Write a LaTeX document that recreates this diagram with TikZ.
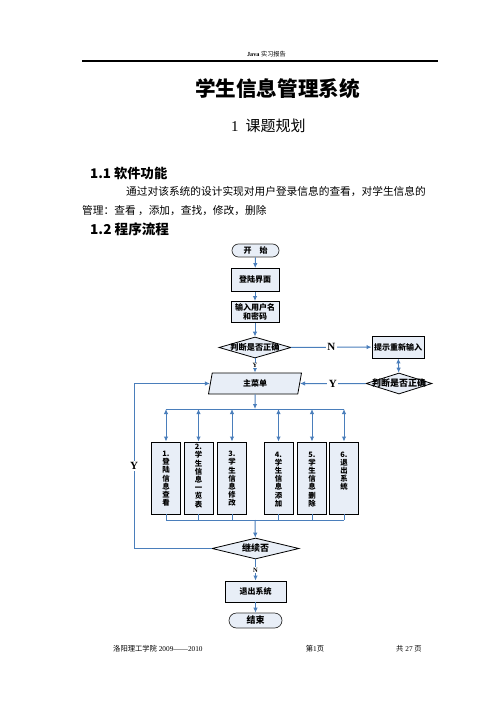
\documentclass[tikz,border=0pt]{standalone}
\usepackage{fontspec}
\setmainfont{Liberation Serif}
\newfontfamily\cjk{Noto Sans CJK SC}
\usetikzlibrary{arrows.meta, shapes.geometric, positioning}
\definecolor{flowblue}{RGB}{74,126,187}
\definecolor{boxfill}{RGB}{232,238,247}

\begin{document}
\begin{tikzpicture}[x=1pt, y=-1pt,
    every node/.style={inner sep=0pt},
    procbox/.style={draw=black, line width=0.9pt, fill=boxfill, align=center,
        font=\cjk\bfseries\fontsize{8}{8.8}\selectfont},
    termbox/.style={procbox, draw=black!80, line width=0.7pt, rounded corners=6.5pt},
    optbox/.style={procbox, minimum width=29pt, minimum height=72pt},
    vtext/.style={anchor=north, align=center, font=\cjk\bfseries\fontsize{7.4}{8.2}\selectfont},
    decision/.style={diamond, draw=black, line width=0.8pt, fill=boxfill},
    dtext/.style={font=\cjk\bfseries\fontsize{8.2}{9}\selectfont},
    menushape/.style={trapezium, trapezium left angle=64, trapezium right angle=116,
        trapezium stretches body, draw=black, line width=0.8pt, fill=boxfill,
        minimum width=93pt, minimum height=21pt, font=\cjk\bfseries\fontsize{8}{9}\selectfont},
    link/.style={draw=flowblue, line width=1pt},
    flow/.style={link, -{Latex[length=5pt, width=4.5pt]}},
    dflow/.style={link, {Latex[length=5pt, width=4.5pt]}-{Latex[length=5pt, width=4.5pt]}},
    yn/.style={fill=white, inner sep=1.5pt, font=\bfseries\fontsize{11}{11}\selectfont},
    ynsmall/.style={fill=white, inner sep=0.8pt, font=\bfseries\fontsize{6.5}{6.5}\selectfont},
]
\useasboundingbox (0,0) rectangle (496,701);

% page head and text
\node[font=\fontsize{6.2}{7}\selectfont] (head) at (266.5,54) {\textbf{Java} {\cjk 实习报告}};
\draw[line width=1.5pt] (82,61) -- (438,61);
\node[font=\cjk\bfseries\fontsize{20.6}{24}\selectfont] (title) at (277.5,89) {学生信息管理系统};
\node[anchor=west, font=\fontsize{15}{18}\selectfont] (chap) at (231,126) {1\hspace{7pt}{\cjk 课题规划}};
\node[anchor=west, font=\cjk\bfseries\fontsize{13.3}{16}\selectfont] (sec1) at (90,173) {1.1 软件功能};
\node[anchor=west, font=\cjk\fontsize{10.7}{12}\selectfont] (body1) at (126,192) {通过对该系统的设计实现对用户登录信息的查看，对学生信息的};
\node[anchor=west, font=\cjk\fontsize{10.7}{12}\selectfont] (body2) at (82,211) {管理：查看 ，添加，查找，修改，删除};
\node[anchor=west, font=\cjk\bfseries\fontsize{13.6}{16}\selectfont] (sec2) at (90,229) {1.2\ 程序流程};

% flow chart
\node[termbox, minimum width=47pt, minimum height=13pt] (start) at (255.5,250.5) {开\hspace{8pt}始};
\node[procbox, minimum width=48pt, minimum height=23pt] (login) at (255,280) {登陆界面};
\node[procbox, minimum width=48pt, minimum height=21pt] (input) at (255,312) {输入用户名\\和密码};
\node[decision, minimum width=72pt, minimum height=21pt,
    label={[dtext]center:判断是否正确}] (check) at (255,347.5) {};
\node[procbox, minimum width=52pt, minimum height=22pt] (retry) at (398,347) {提示重新输入};
\node[decision, minimum width=66pt, minimum height=21pt,
    label={[dtext, font=\cjk\bfseries\fontsize{9}{9}\selectfont]center:判断是否正确}] (recheck) at (399,383.5) {};
\node[menushape] (menu) at (255,383.5) {主菜单};

\coordinate (btop) at (255,409);
\coordinate (bbot) at (255,520);
\foreach \i/\x/\txt/\ty in {1/166/{1.\\登\\陆\\信\\息\\查\\看}/451,
    2/198.5/{2.\\学\\生\\信\\息\\一\\览\\表}/444,
    3/232/{3.\\学\\生\\信\\息\\修\\改}/451,
    4/278.5/{4.\\学\\生\\信\\息\\添\\加}/451.5,
    5/312/{5.\\学\\生\\信\\息\\删\\除}/451.5,
    6/344/{6.\\退\\出\\系\\统}/451.5} {
    \node[optbox] (m\i) at (\x,478) {};
    \node[vtext] (t\i) at (\x,\ty) {\txt};
}

\node[decision, minimum width=87pt, minimum height=21pt,
    label={[dtext, font=\cjk\bfseries\fontsize{9}{9}\selectfont]center:继续否}] (cont) at (255.5,548.5) {};
\node[procbox, minimum width=61pt, minimum height=21pt] (quit) at (255.5,591.5) {退出系统};
\node[termbox, minimum width=53pt, minimum height=15pt, rounded corners=7.5pt,
    font=\cjk\bfseries\fontsize{9}{9}\selectfont] (finish) at (255.5,620.5) {结束};
\coordinate (loop) at (134,548.5);

% connectors
\draw[flow] (start) -- (login);
\draw[flow] (login) -- (input);
\draw[flow] (input) -- (check);
\draw[flow] (check) -- node[yn] {N} (retry);
\draw[dflow] (retry) -- (recheck);
\draw[flow] (recheck.west) -- node[yn] {Y} (menu.east);
\draw[flow] (check) -- node[ynsmall] {Y} (menu);
\draw[flow] (menu) -- (btop);
\draw[link] (m1.north |- btop) -- (m6.north |- btop);
\draw[link] (m1.south |- bbot) -- (m6.south |- bbot);
\foreach \i in {1,...,6} {
    \draw[dflow] (m\i.north |- btop) -- (m\i.north);
    \draw[link] (m\i.south) -- (m\i.south |- bbot);
}
\draw[flow] (bbot) -- (cont);
\draw[flow] (cont.west) -- (loop) -- node[yn] {Y} (loop |- menu.west) -- (menu.west);
\draw[flow] (cont) -- node[ynsmall] {N} (quit);
\draw[flow] (quit) -- (finish);

% page foot
\node[anchor=west, font=\fontsize{7.3}{8}\selectfont] (foot1) at (113,649) {{\cjk 洛阳理工学院} 2009——2010};
\node[font=\fontsize{7.3}{8}\selectfont] (foot2) at (315,649) {{\cjk 第}1{\cjk 页}};
\node[font=\fontsize{7.3}{8}\selectfont] (foot3) at (409,649) {{\cjk 共} 27 {\cjk 页}};
\end{tikzpicture}
\end{document}
